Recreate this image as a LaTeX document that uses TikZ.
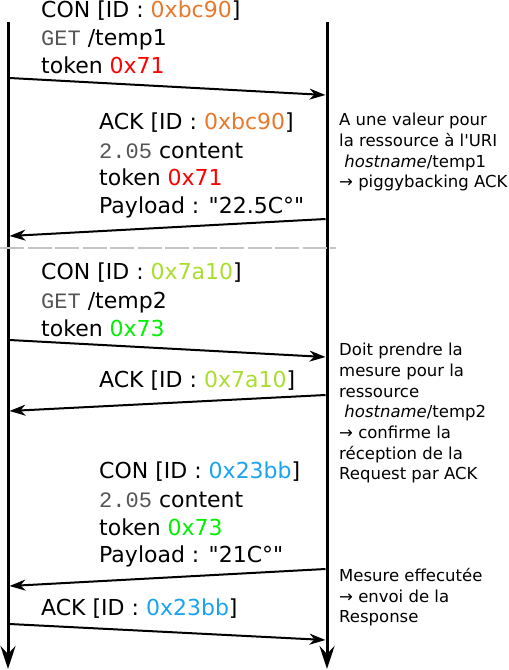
\documentclass[tikz,border=0pt]{standalone}
\usepackage{fontspec}
\setmainfont{DejaVu Sans}[Ligatures=TeXOff]
\newfontfamily\monof{Liberation Mono}[Ligatures=TeXOff]
\usetikzlibrary{arrows.meta}
\definecolor{corange}{HTML}{E8782C}
\definecolor{cred}{HTML}{FF0000}
\definecolor{cyg}{HTML}{AADE2E}
\definecolor{cgreen}{HTML}{00F000}
\definecolor{cblue}{HTML}{1AA3F0}
\definecolor{cmono}{HTML}{555555}
\definecolor{cdash}{HTML}{C4C4C4}
\newcommand{\mt}[1]{{\monof\color{cmono}#1}}
\tikzset{
  big/.style={anchor=base west, inner sep=0pt, font=\fontsize{22}{28}\selectfont},
  note/.style={anchor=north west, inner sep=0pt, align=left, font=\fontsize{16.5}{20.7}\selectfont},
  life/.style={line width=3pt, -{Stealth[length=23pt,width=15pt,inset=8pt]}},
  msg/.style={line width=2pt, -{Stealth[length=16pt,width=11pt,inset=5pt]}},
  sep/.style={line width=2pt, color=cdash, dash pattern=on 24pt off 3.5pt}
}
\begin{document}
\begin{tikzpicture}[x=1pt,y=-1pt]
\useasboundingbox (0,0) rectangle (509,670);
% lifelines
\coordinate (Lt) at (8,22);
\coordinate (Lb) at (8,669);
\coordinate (Rt) at (327,22);
\coordinate (Rb) at (327,669);
\draw[life] (Lt) -- (Lb);
\draw[life] (Rt) -- (Rb);
% separator
\coordinate (S1) at (0,248);
\coordinate (S2) at (336,248);
\draw[sep] (S1) -- (S2);
% message endpoints
\coordinate (a1) at (9.5,78);   \coordinate (b1) at (325.5,95);
\coordinate (a2) at (325.5,219); \coordinate (b2) at (9.5,236);
\coordinate (a3) at (9.5,340);  \coordinate (b3) at (325.5,357);
\coordinate (a4) at (325.5,395); \coordinate (b4) at (9.5,411);
\coordinate (a5) at (325.5,569); \coordinate (b5) at (9.5,586);
\coordinate (a6) at (9.5,624);  \coordinate (b6) at (325.5,640);
\draw[msg] (a1) -- (b1);
\draw[msg] (a2) -- (b2);
\draw[msg] (a3) -- (b3);
\draw[msg] (a4) -- (b4);
\draw[msg] (a5) -- (b5);
\draw[msg] (a6) -- (b6);
% block 1
\node[big] (t11) at (41,17) {CON [ID : \textcolor{corange}{0xbc90}]};
\node[big] (t12) at (41,45) {\mt{GET} /temp1};
\node[big] (t13) at (41,73) {token \textcolor{cred}{0x71}};
% block 2
\node[big] (t21) at (99,129) {ACK [ID : \textcolor{corange}{0xbc90}]};
\node[big] (t22) at (99,158) {\mt{2.05} content};
\node[big] (t23) at (99,185) {token \textcolor{cred}{0x71}};
\node[big] (t24) at (99,213) {Payload : "22.5C°"};
% note 1
\node[note] (n1) at (339,113) {A une valeur pour\\la ressource à l'URI\\\ \textit{hostname}/temp1\\→ piggybacking ACK};
% block 3
\node[big] (t31) at (41,279) {CON [ID : \textcolor{cyg}{0x7a10}]};
\node[big] (t32) at (41,308) {\mt{GET} /temp2};
\node[big] (t33) at (41,336) {token \textcolor{cgreen}{0x73}};
% block 4
\node[big] (t41) at (99,387) {ACK [ID : \textcolor{cyg}{0x7a10}]};
% note 2
\node[note] (n2) at (339,343) {Doit prendre la\\mesure pour la\\ressource\\\ \textit{hostname}/temp2\\→ confirme la\\réception de la\\Request par ACK};
% block 5
\node[big] (t51) at (99,478) {CON [ID : \textcolor{cblue}{0x23bb}]};
\node[big] (t52) at (99,507) {\mt{2.05} content};
\node[big] (t53) at (99,535) {token \textcolor{cgreen}{0x73}};
\node[big] (t54) at (99,562) {Payload : "21C°"};
% note 3
\node[note] (n3) at (339,568) {Mesure effecutée\\→ envoi de la\\Response};
% block 6
\node[big] (t61) at (41,615) {ACK [ID : \textcolor{cblue}{0x23bb}]};
\end{tikzpicture}
\end{document}
